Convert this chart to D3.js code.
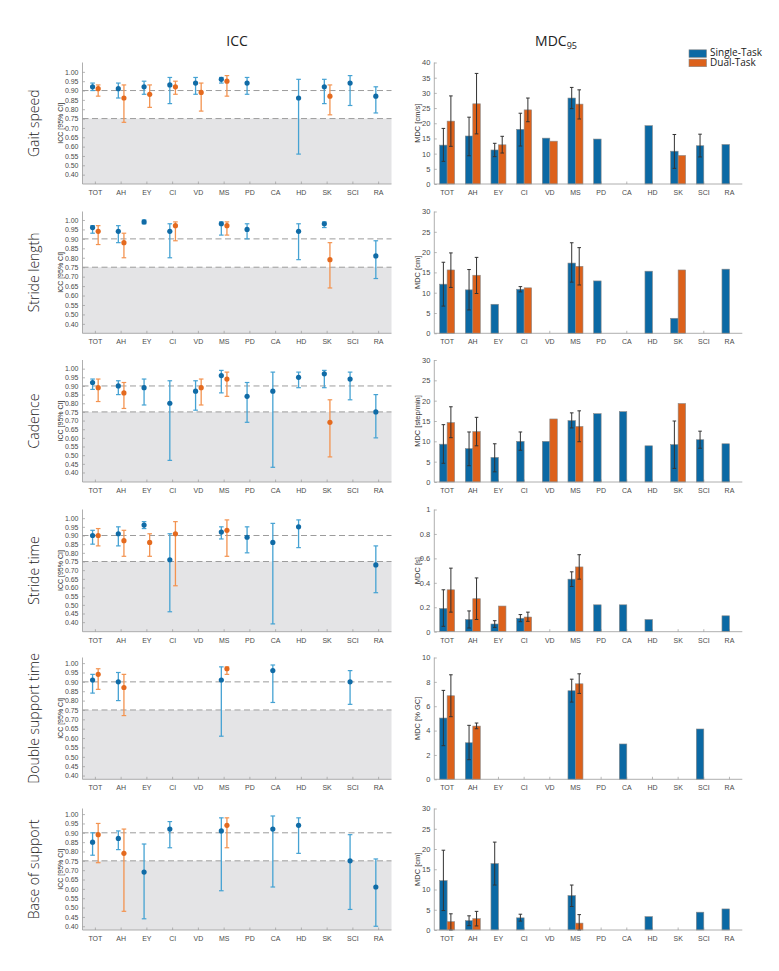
<!DOCTYPE html>
<html><head><meta charset="utf-8">
<script src="https://cdn.jsdelivr.net/npm/d3@7"></script>
<style>body{margin:0;background:#fff}svg{display:block}</style>
</head><body><svg id="c" width="779" height="971"></svg>
<script>
const categories = ["TOT","AH","EY","CI","VD","MS","PD","CA","HD","SK","SCI","RA"];
const rowLabels = ["Gait speed","Stride length","Cadence","Stride time","Double support time","Base of support"];
const mdcUnits = ["MDC [cm/s]","MDC [cm]","MDC [step/min]","MDC [s]","MDC [% GC]","MDC [cm]"];
const seriesNames = ["Single-Task","Dual-Task"];

// ICC [value, lower 95% CI, upper 95% CI] per category (null = not reported)
const iccST_gaitSpeed = [[0.92,0.90,0.94],[0.91,0.86,0.94],[0.92,0.88,0.95],[0.93,0.83,0.97],[0.94,0.88,0.97],[0.96,0.94,0.97],[0.94,0.88,0.97],null,[0.86,0.56,0.96],[0.92,0.83,0.96],[0.94,0.82,0.98],[0.87,0.78,0.92]];
const iccDT_gaitSpeed = [[0.91,0.87,0.93],[0.86,0.73,0.93],[0.88,0.81,0.93],[0.92,0.88,0.95],[0.89,0.79,0.94],[0.95,0.87,0.98],null,null,null,[0.87,0.77,0.93],null,null];
const iccST_strideLength = [[0.96,0.93,0.97],[0.94,0.88,0.97],[0.99,0.98,1.00],[0.94,0.80,0.98],null,[0.98,0.92,0.99],[0.95,0.90,0.98],null,[0.94,0.79,0.98],[0.98,0.96,0.99],null,[0.81,0.69,0.89]];
const iccDT_strideLength = [[0.94,0.87,0.97],[0.88,0.80,0.93],null,[0.97,0.89,0.99],null,[0.97,0.92,0.99],null,null,null,[0.79,0.64,0.88],null,null];
const iccST_cadence = [[0.92,0.88,0.94],[0.90,0.85,0.93],[0.89,0.79,0.94],[0.80,0.47,0.93],[0.87,0.76,0.93],[0.96,0.86,0.99],[0.84,0.69,0.92],[0.87,0.43,0.98],[0.95,0.89,0.98],[0.97,0.89,0.99],[0.94,0.82,0.98],[0.75,0.60,0.85]];
const iccDT_cadence = [[0.89,0.81,0.94],[0.86,0.77,0.92],null,null,[0.89,0.79,0.94],[0.94,0.84,0.98],null,null,null,[0.69,0.49,0.82],null,null];
const iccST_strideTime = [[0.90,0.85,0.93],[0.91,0.84,0.95],[0.96,0.94,0.98],[0.76,0.46,0.91],null,[0.92,0.88,0.95],[0.89,0.80,0.95],[0.86,0.39,0.97],[0.95,0.83,0.99],null,null,[0.73,0.57,0.84]];
const iccDT_strideTime = [[0.90,0.84,0.94],[0.87,0.78,0.93],[0.86,0.78,0.91],[0.91,0.61,0.98],null,[0.93,0.78,0.99],null,null,null,null,null,null];
const iccST_doubleSupport = [[0.91,0.84,0.94],[0.90,0.80,0.95],null,null,null,[0.91,0.61,0.98],null,[0.96,0.79,0.99],null,null,[0.90,0.78,0.96],null];
const iccDT_doubleSupport = [[0.94,0.86,0.97],[0.87,0.72,0.94],null,null,null,[0.97,0.94,0.98],null,null,null,null,null,null];
const iccST_baseSupport = [[0.85,0.78,0.90],[0.87,0.81,0.91],[0.69,0.44,0.84],[0.92,0.82,0.96],null,[0.91,0.59,0.98],null,[0.92,0.61,0.99],[0.94,0.79,0.98],null,[0.75,0.49,0.89],[0.61,0.40,0.76]];
const iccDT_baseSupport = [[0.89,0.74,0.95],[0.79,0.48,0.92],null,null,null,[0.94,0.82,0.98],null,null,null,null,null,null];

// MDC95 [value, lower, upper] (lower/upper absent = no error bar)
const mdcST_gaitSpeed = [[12.8,7.45,18.3],[15.8,9.3,22.0],[11.2,9.0,13.4],[18.0,12.5,23.3],[15.1],[28.3,24.8,31.8],[14.8],null,[19.2],[10.8,5.15,16.3],[12.6,8.9,16.4],[13.0]];
const mdcDT_gaitSpeed = [[20.7,12.4,29.0],[26.4,16.5,36.4],[12.9,10.2,15.7],[24.4,20.5,28.3],[14.1],[26.3,21.4,31.0],null,null,null,[9.4],null,null];
const mdcST_strideLength = [[12.1,6.7,17.5],[10.7,5.75,15.7],[7.15],[10.85,10.2,11.5],null,[17.3,12.6,22.3],[12.9],null,[15.3],[3.7],null,[15.8]];
const mdcDT_strideLength = [[15.6,11.3,19.8],[14.3,9.8,18.7],null,[11.2],null,[16.5,11.9,21.1],null,null,null,[15.6],null,null];
const mdcST_cadence = [[9.3,4.6,14.1],[8.2,4.0,12.3],[6.05,2.5,9.4],[10.0,7.8,12.3],[10.0],[15.1,13.3,17.0],[16.8],[17.3],[8.9],[9.2,3.35,15.0],[10.4,8.3,12.5],[9.4]];
const mdcDT_cadence = [[14.6,10.9,18.5],[12.4,8.9,15.9],null,null,[15.5],[13.65,9.9,17.5],null,null,null,[19.3],null,null];
const mdcST_strideTime = [[0.19,0.044,0.343],[0.10,0.03,0.17],[0.063,0.035,0.09],[0.11,0.082,0.14],null,[0.43,0.37,0.49],[0.22],[0.22],[0.10],null,null,[0.13]];
const mdcDT_strideTime = [[0.343,0.16,0.52],[0.27,0.10,0.44],[0.21],[0.12,0.085,0.16],null,[0.53,0.43,0.63],null,null,null,null,null,null];
const mdcST_doubleSupport = [[5.03,2.76,7.3],[3.0,1.61,4.43],null,null,null,[7.27,6.34,8.22],null,[2.9],null,null,[4.13],null];
const mdcDT_doubleSupport = [[6.86,5.14,8.58],[4.37,4.15,4.62],null,null,null,[7.84,7.05,8.66],null,null,null,null,null,null];
const mdcST_baseSupport = [[12.2,4.8,19.7],[2.3,1.07,3.5],[16.4,11.1,21.7],[3.0,2.2,3.9],null,[8.5,5.8,11.1],null,null,[3.3],null,[4.4],[5.2]];
const mdcDT_baseSupport = [[2.05,0.0,4.0],[2.8,1.0,4.6],null,null,null,[1.7,0.0,3.8],null,null,null,null,null,null];

// tick values / labels
const iccTicksFull = [0.40,0.45,0.50,0.55,0.60,0.65,0.70,0.75,0.80,0.85,0.90,0.95,1.00];
const iccTicksShort = [0.45,0.50,0.55,0.60,0.65,0.70,0.75,0.80,0.85,0.90,0.95,1.00];
const iccTickLabelsShort = ["0.40","0.50","0.55","0.60","0.65","0.70","0.75","0.80","0.85","0.90","0.95","1.00"];
const mdcTicks_gaitSpeed = [0,5,10,15,20,25,30,35,40];
const mdcTicks_30 = [0,5,10,15,20,25,30];
const mdcTicks_strideTime = [0,0.2,0.4,0.6,0.8,1];
const mdcTicks_doubleSupport = [0,2,4,6,8,10];
const iccRefLines = [0.90,0.75];

const rows = [
  {icc:[iccST_gaitSpeed,iccDT_gaitSpeed], mdc:[mdcST_gaitSpeed,mdcDT_gaitSpeed], iccDom:[0.40,1.05], iccTicks:iccTicksShort, iccLabels:iccTickLabelsShort, mdcDom:[0,40], mdcTicks:mdcTicks_gaitSpeed},
  {icc:[iccST_strideLength,iccDT_strideLength], mdc:[mdcST_strideLength,mdcDT_strideLength], iccDom:[0.40,1.045], iccTicks:iccTicksShort, iccLabels:iccTickLabelsShort, mdcDom:[0,30], mdcTicks:mdcTicks_30},
  {icc:[iccST_cadence,iccDT_cadence], mdc:[mdcST_cadence,mdcDT_cadence], iccDom:[0.345,1.05], iccTicks:iccTicksFull, mdcDom:[0,30], mdcTicks:mdcTicks_30},
  {icc:[iccST_strideTime,iccDT_strideTime], mdc:[mdcST_strideTime,mdcDT_strideTime], iccDom:[0.345,1.05], iccTicks:iccTicksFull, mdcDom:[0,1], mdcTicks:mdcTicks_strideTime},
  {icc:[iccST_doubleSupport,iccDT_doubleSupport], mdc:[mdcST_doubleSupport,mdcDT_doubleSupport], iccDom:[0.38,1.03], iccTicks:iccTicksFull, mdcDom:[0,10], mdcTicks:mdcTicks_doubleSupport},
  {icc:[iccST_baseSupport,iccDT_baseSupport], mdc:[mdcST_baseSupport,mdcDT_baseSupport], iccDom:[0.38,1.03], iccTicks:iccTicksFull, mdcDom:[0,30], mdcTicks:mdcTicks_30}
];

// ---------- layout ----------
const leftX = [82.5, 391.5], rightX = [434.3, 742.3];
const rowBox = [[62.5,184],[211.5,333.3],[360,482],[509.5,631.7],[657.5,779.3],[808.5,930]];
const iccLine = ["#45a2d3","#f39350"], iccDot = ["#106ba6","#e46a1f"];
const barFill = ["#0b69a4","#dc611b"];
const tickFont = "'Liberation Sans', Arial, sans-serif";
const axisCol = "#9a9a9a", tickTxt = "#4a4a4a";

const svg = d3.select("#c");
const xL = d3.scaleBand().domain(categories).range(leftX).padding(0);
const xR = d3.scaleBand().domain(categories).range(rightX).padding(0);
const iccOff = d3.scalePoint().domain(seriesNames).range([-2.8, 2.8]);
const barSub = d3.scaleBand().domain(seriesNames).range([-7.5, 7.5]).padding(0);

function styleAxis(g, fs){
  g.select(".domain").remove();
  g.selectAll(".tick line").attr("stroke", axisCol).attr("stroke-width", 0.7);
  g.selectAll(".tick text").attr("fill", tickTxt).attr("font-family", tickFont).attr("font-size", fs);
}

// titles
svg.append("text").attr("x", 237).attr("y", 46).attr("text-anchor","middle")
  .attr("font-family","'Open Sans', sans-serif").attr("font-size",14).attr("fill","#222").text("ICC");
const mt = svg.append("text").attr("x", 556).attr("y", 46).attr("text-anchor","middle")
  .attr("font-family","'Open Sans', sans-serif").attr("font-size",14).attr("fill","#222");
mt.append("tspan").text("MDC");
mt.append("tspan").attr("font-size",9).attr("dy",3).text("95");

// legend
const leg = svg.append("g");
seriesNames.forEach((s,i)=>{
  leg.append("rect").attr("x",689).attr("y",49.8+i*9.3).attr("width",17.5).attr("height",7.6)
    .attr("fill",barFill[i]).attr("stroke","#888").attr("stroke-width",0.6);
  leg.append("text").attr("x",710).attr("y",56.4+i*9.6).attr("font-family","'Open Sans', sans-serif")
    .attr("font-size",10).attr("fill","#222").text(s);
});

rows.forEach((r, ri)=>{
  const [top, bot] = rowBox[ri];
  // row label
  svg.append("text").attr("transform",`translate(39,${(top+bot)/2}) rotate(-90)`)
    .attr("text-anchor","middle").attr("font-family","'Open Sans', sans-serif").attr("font-weight",300)
    .attr("font-size",14).attr("fill","#222").text(rowLabels[ri]);

  // ---------- ICC panel ----------
  const y = d3.scaleLinear().domain(r.iccDom).range([bot, top]);
  const gL = svg.append("g");
  gL.append("rect").attr("x",leftX[0]).attr("y",y(0.75)).attr("width",leftX[1]-leftX[0])
    .attr("height",bot-y(0.75)).attr("fill","#e4e4e6");
  iccRefLines.forEach(v=>{
    gL.append("line").attr("x1",leftX[0]).attr("x2",leftX[1]).attr("y1",y(v)).attr("y2",y(v))
      .attr("stroke","#9c9c9c").attr("stroke-width",1).attr("stroke-dasharray","6,3.5");
  });
  const ay = gL.append("g").attr("transform",`translate(${leftX[0]},0)`)
    .call(d3.axisLeft(y).tickValues(r.iccTicks).tickSize(-2.5).tickPadding(4)
      .tickFormat((d,i)=> r.iccLabels ? r.iccLabels[i] : d3.format(".2f")(d)));
  styleAxis(ay, 7);
  const ax = gL.append("g").attr("transform",`translate(0,${bot})`)
    .call(d3.axisBottom(xL).tickSize(-2.5).tickPadding(6));
  styleAxis(ax, 7);
  gL.append("line").attr("x1",leftX[0]).attr("x2",leftX[0]).attr("y1",top).attr("y2",bot).attr("stroke",axisCol).attr("stroke-width",0.8);
  gL.append("line").attr("x1",leftX[0]).attr("x2",leftX[1]).attr("y1",bot).attr("y2",bot).attr("stroke",axisCol).attr("stroke-width",0.8);
  gL.append("text").attr("transform",`translate(63,${(top+bot)/2}) rotate(-90)`).attr("text-anchor","middle")
    .attr("font-family",tickFont).attr("font-size",7).attr("fill","#333").text("ICC [95% CI]");

  seriesNames.forEach((s, si)=>{
    r.icc[si].forEach((d, ci)=>{
      if(!d) return;
      const cx = xL(categories[ci]) + xL.bandwidth()/2 + iccOff(s);
      const g = gL.append("g");
      g.append("line").attr("x1",cx).attr("x2",cx).attr("y1",y(d[1])).attr("y2",y(d[2]))
        .attr("stroke",iccLine[si]).attr("stroke-width",1.3);
      [d[1],d[2]].forEach(v=> g.append("line").attr("x1",cx-2.3).attr("x2",cx+2.3).attr("y1",y(v)).attr("y2",y(v))
        .attr("stroke",iccLine[si]).attr("stroke-width",1.2));
      g.append("circle").attr("cx",cx).attr("cy",y(d[0])).attr("r",2.6).attr("fill",iccDot[si]);
    });
  });

  // ---------- MDC panel ----------
  const yR = d3.scaleLinear().domain(r.mdcDom).range([bot, top]);
  const gR = svg.append("g");
  const ayR = gR.append("g").attr("transform",`translate(${rightX[0]},0)`)
    .call(d3.axisLeft(yR).tickValues(r.mdcTicks).tickSize(-2.5).tickPadding(4).tickFormat(d3.format("")));
  styleAxis(ayR, 7.5);
  const axR = gR.append("g").attr("transform",`translate(0,${bot})`)
    .call(d3.axisBottom(xR).tickSize(-2.5).tickPadding(6));
  styleAxis(axR, 7);
  gR.append("text").attr("transform",`translate(420,${(top+bot)/2}) rotate(-90)`).attr("text-anchor","middle")
    .attr("font-family",tickFont).attr("font-size",7.5).attr("fill","#333").text(mdcUnits[ri]);

  seriesNames.forEach((s, si)=>{
    r.mdc[si].forEach((d, ci)=>{
      if(!d) return;
      const c = xR(categories[ci]) + xR.bandwidth()/2;
      const x0 = c + barSub(s);
      gR.append("rect").attr("x",x0).attr("y",yR(d[0])).attr("width",barSub.bandwidth())
        .attr("height",bot-yR(d[0])).attr("fill",barFill[si]).attr("stroke","#8a8a8a").attr("stroke-width",0.6);
    });
  });
  seriesNames.forEach((s, si)=>{
    r.mdc[si].forEach((d, ci)=>{
      if(!d || d.length<3) return;
      const c = xR(categories[ci]) + xR.bandwidth()/2 + barSub(s) + barSub.bandwidth()/2;
      gR.append("line").attr("x1",c).attr("x2",c).attr("y1",yR(d[1])).attr("y2",yR(d[2]))
        .attr("stroke","#333").attr("stroke-width",1);
      [d[1],d[2]].forEach(v=> gR.append("line").attr("x1",c-1.8).attr("x2",c+1.8).attr("y1",yR(v)).attr("y2",yR(v))
        .attr("stroke","#333").attr("stroke-width",1));
    });
  });
  gR.append("line").attr("x1",rightX[0]).attr("x2",rightX[0]).attr("y1",top).attr("y2",bot).attr("stroke",axisCol).attr("stroke-width",0.8);
  gR.append("line").attr("x1",rightX[0]).attr("x2",rightX[1]).attr("y1",bot).attr("y2",bot).attr("stroke",axisCol).attr("stroke-width",0.8);
});
</script>
</body></html>
